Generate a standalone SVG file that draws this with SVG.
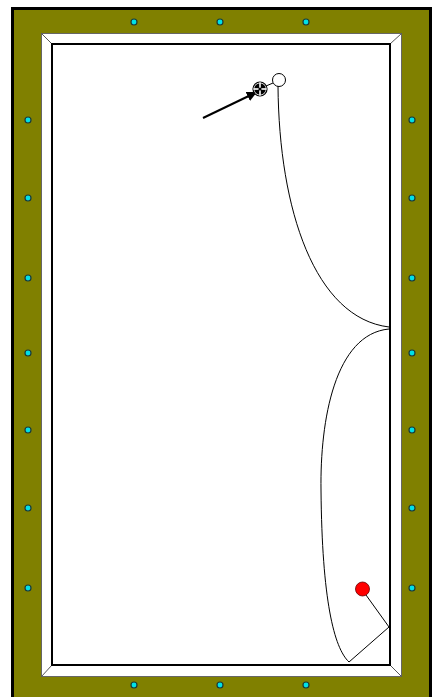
<svg xmlns="http://www.w3.org/2000/svg" width="437" height="697" viewBox="0 0 437 697">
<style>
.dia{fill:#00e0e8;stroke:#1a3a3a;stroke-width:1.2}
.path{fill:none;stroke:#000;stroke-width:1}
.corner{stroke:#555;stroke-width:1}
</style>
<defs>
<marker id="ah" markerWidth="10" markerHeight="10" refX="8" refY="5" orient="auto" markerUnits="userSpaceOnUse">
<path d="M0,0 L10,5 L0,10 z" fill="#000"/>
</marker>
</defs>
<rect x="0" y="0" width="437" height="697" fill="#fff"/>
<g id="table">
<rect x="12.5" y="8.5" width="418" height="700" fill="#808000" stroke="#000" stroke-width="3"/>
<rect x="41.5" y="33.5" width="360" height="643" fill="#fff" stroke="#666" stroke-width="1"/>
<line class="corner" x1="41.5" y1="33.5" x2="52" y2="44"/>
<line class="corner" x1="401.5" y1="33.5" x2="390" y2="44"/>
<line class="corner" x1="41.5" y1="676.5" x2="52" y2="665"/>
<line class="corner" x1="401.5" y1="676.5" x2="390" y2="665"/>
<rect x="52" y="44" width="338" height="621" fill="#fff" stroke="#000" stroke-width="2"/>
</g>
<g id="diamonds">
<circle class="dia" cx="134" cy="22" r="3"/>
<circle class="dia" cx="220" cy="22" r="3"/>
<circle class="dia" cx="306" cy="22" r="3"/>
<circle class="dia" cx="134" cy="685" r="3"/>
<circle class="dia" cx="220" cy="685" r="3"/>
<circle class="dia" cx="306" cy="685" r="3"/>
<circle class="dia" cx="28" cy="120" r="3"/>
<circle class="dia" cx="28" cy="198" r="3"/>
<circle class="dia" cx="28" cy="278" r="3"/>
<circle class="dia" cx="28" cy="353" r="3"/>
<circle class="dia" cx="28" cy="430" r="3"/>
<circle class="dia" cx="28" cy="508" r="3"/>
<circle class="dia" cx="28" cy="588" r="3"/>
<circle class="dia" cx="412" cy="120" r="3"/>
<circle class="dia" cx="412" cy="198" r="3"/>
<circle class="dia" cx="412" cy="278" r="3"/>
<circle class="dia" cx="412" cy="353" r="3"/>
<circle class="dia" cx="412" cy="430" r="3"/>
<circle class="dia" cx="412" cy="508" r="3"/>
<circle class="dia" cx="412" cy="588" r="3"/>
</g>
<g id="connectors">
<path class="path" d="M278,86 C279,210 315,318 389,327"/>
<path class="path" d="M389,329 C335,334 320,420 321,490 C322,600 334,648 349,662 L389,627 L366,595"/>
<line x1="266" y1="86" x2="273" y2="83" stroke="#000" stroke-width="1"/>
<line x1="203" y1="118" x2="255" y2="93" stroke="#000" stroke-width="2" marker-end="url(#ah)"/>
</g>
<g id="ghost-ball">
<circle cx="260" cy="89" r="7" fill="#fff" stroke="#000" stroke-width="1.2"/>
<circle cx="260" cy="89" r="5.8" fill="#000"/>
<line x1="253.5" y1="89" x2="266.5" y2="89" stroke="#fff" stroke-width="1.6"/>
<line x1="260" y1="82.5" x2="260" y2="95.5" stroke="#fff" stroke-width="1.6"/>
<circle cx="260" cy="89" r="1.6" fill="#000"/>
</g>
<g id="cue-ball">
<circle cx="279" cy="80" r="6.5" fill="#fff" stroke="#000" stroke-width="1"/>
</g>
<g id="red-ball">
<circle cx="362.5" cy="589" r="7" fill="#f00" stroke="#600" stroke-width="0.8"/>
</g>
</svg>
